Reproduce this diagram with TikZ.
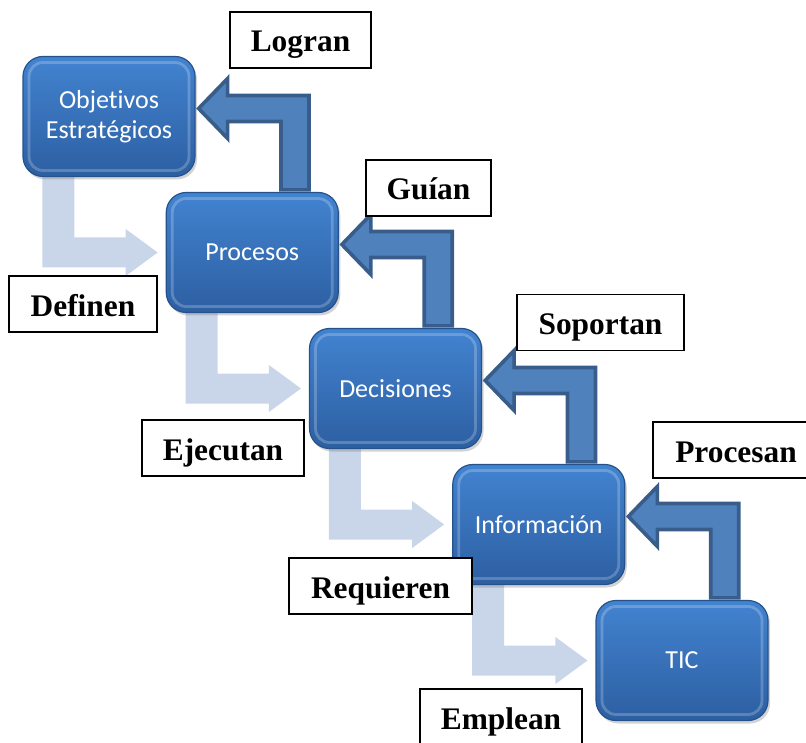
\documentclass[tikz,border=0pt]{standalone}
\usepackage{fontspec}
\setmainfont{Liberation Serif}
\newfontfamily\cajafont{Carlito}[Ligatures=NoCommon]
\usetikzlibrary{calc,positioning,backgrounds,shadows}
\definecolor{cajaarriba}{RGB}{66,131,208}
\definecolor{cajaabajo}{RGB}{45,95,162}
\definecolor{cajaborde}{RGB}{38,82,140}
\definecolor{clara}{RGB}{201,213,232}
\definecolor{oscura}{RGB}{79,129,189}
\definecolor{oscuraborde}{RGB}{56,93,138}
\tikzset{
  caja/.style={rounded corners=10pt,top color=cajaarriba,bottom color=cajaabajo,
               draw=cajaborde,line width=0.6pt,minimum width=86pt,minimum height=60pt,
               align=center,text=white,font=\cajafont\fontsize{13}{15}\selectfont,
               drop shadow={shadow xshift=1pt,shadow yshift=-1.5pt,opacity=.35},
               path picture={\draw[white,opacity=.22,line width=1.4pt,rounded corners=7pt]
                 ([shift={(3pt,3pt)}]path picture bounding box.south west) rectangle
                 ([shift={(-3pt,-3pt)}]path picture bounding box.north east);}},
  etiqueta/.style={draw=black,line width=0.7pt,fill=white,minimum height=28pt,
                   text height=20pt,text depth=8pt,
                   inner sep=0pt,font=\bfseries\fontsize{15.7}{18}\selectfont},
  fbaja/.style={fill=clara,draw=none},
  fsube/.style={fill=oscura,draw=oscuraborde,line width=1.8pt},
}
\begin{document}
\begin{tikzpicture}[x=0.5pt,y=-0.5pt]
  \useasboundingbox (0,0) rectangle (806,742);
  \node[caja] (obj) at (109,116.5) {Objetivos\\Estratégicos};
  \node[caja] (proc) at (252.25,252.5) {Procesos};
  \node[caja] (dec) at (395.5,388.5) {Decisiones};
  \node[caja] (info) at (538.75,524.5) {Información};
  \node[caja] (tic) at (682,660.5) {TIC};
  \begin{scope}[on background layer]
    \foreach \a/\b in {obj/proc,proc/dec,dec/info,info/tic} {
      \path[fbaja] ($(\a.south west)+(20,0)$) |- ($(\b.west)+(-40,15)$)
        -- ($(\b.west)+(-40,23.5)$) -- ($(\b.west)+(-8,0)$) -- ($(\b.west)+(-40,-23.5)$)
        -- ($(\b.west)+(-40,-15)$) -| ($(\a.south west)+(52,0)$) -- cycle;
      \coordinate (punta) at ($(\a.east)+(3,-8)$);
      \draw[fsube] ($(\b.north)+(56.75,-2)$) |- ($(punta)+(29,-13)$)
        -- ($(punta)+(29,-30)$) -- (punta) -- ($(punta)+(29,30)$)
        -- ($(punta)+(29,13)$) -| ($(\b.north)+(28.75,-2)$) -- cycle;
    }
  \end{scope}
  \node[etiqueta,minimum width=70.5pt] (logran) at (300.5,40) {Logran};
  \node[etiqueta,minimum width=62.5pt] (guian) at (428.5,188) {Guían};
  \node[etiqueta,minimum width=83.5pt] (soportan) at (600.5,322.5) {Soportan};
  \node[etiqueta,minimum width=83pt] (procesan) at (736,450) {Procesan};
  \node[etiqueta,minimum width=74pt] (definen) at (83,304) {Definen};
  \node[etiqueta,minimum width=81pt] (ejecutan) at (223,448) {Ejecutan};
  \node[etiqueta,minimum width=91.5pt] (requieren) at (380.5,586) {Requieren};
  \node[etiqueta,minimum width=81pt] (emplean) at (501,717) {Emplean};
\end{tikzpicture}
\end{document}
